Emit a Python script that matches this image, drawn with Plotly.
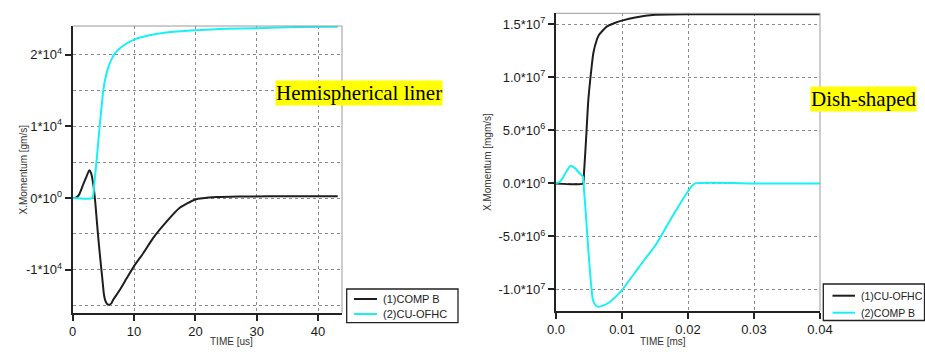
import plotly.graph_objects as go

# ---------------- Data ----------------
# Left panel: Hemispherical liner, time in microseconds, momentum in gm/s
hemi_compb_t = [0, 0.5, 1.0, 1.7, 2.25, 2.7, 3.0, 3.4, 3.7, 4.1, 4.5, 4.8, 5.1, 5.4, 5.8,
                6.3, 6.6, 7.7, 8.8, 10, 11.5, 13.1, 15.3, 17.4, 20, 23.5, 27, 32, 38, 43.2]
hemi_compb_y = [0, 60, 400, 1860, 3000, 3860, 3490, 1630, -800, -4900, -8500, -11000, -13500,
                -14500, -14900, -14700, -14200, -12800, -11200, -9500, -7700, -5600, -3300,
                -1400, -200, 140, 220, 230, 230, 230]
hemi_cu_t = [0, 3.2, 3.5, 3.9, 4.45, 5.0, 5.4, 5.8, 6.3, 6.9, 8.0, 10, 12.5, 15.3, 20, 25, 30,
             37, 43.2]
hemi_cu_y = [0, 0, 1860, 5300, 10500, 15100, 17000, 18200, 19300, 20200, 21100, 22100, 22700,
             23100, 23400, 23600, 23700, 23850, 23900]

# Right panel: Dish-shaped, time in ms, momentum in mgm/s
dish_cu_t = [0, 0.0041, 0.00424, 0.00455, 0.0049, 0.0054, 0.00566, 0.00616, 0.0065, 0.00768,
             0.009, 0.01, 0.012, 0.015, 0.02, 0.03, 0.04]
dish_cu_y = [0, 0, 0.94e6, 4.1e6, 7.9e6, 1.1e7, 1.23e7, 1.35e7, 1.40e7, 1.478e7, 1.515e7,
             1.535e7, 1.565e7, 1.59e7, 1.595e7, 1.595e7, 1.595e7]
dish_compb_t = [0, 0.0006, 0.0010, 0.0014, 0.0018, 0.0022, 0.0029, 0.0036, 0.0041, 0.00424,
                0.00455, 0.0049, 0.0053, 0.0056, 0.006, 0.0064, 0.0072, 0.0081, 0.0092, 0.01,
                0.0126, 0.01525, 0.0179, 0.0205, 0.0211, 0.03, 0.04]
dish_compb_y = [0, 0.16e6, 0.5e6, 0.94e6, 1.35e6, 1.67e6, 1.42e6, 0.94e6, 0.63e6, -0.6e6,
                -3.1e6, -6.3e6, -9.4e6, -1.1e7, -1.15e7, -1.163e7, -1.15e7, -1.12e7, -1.06e7,
                -1.006e7, -7.86e6, -5.66e6, -2.83e6, -0.3e6, 0, 0, 0]

hemi_names = ["(1)COMP B", "(2)CU-OFHC"]
dish_names = ["(1)CU-OFHC", "(2)COMP B"]

hemi_xticks = [0, 10, 20, 30, 40]
hemi_yticks = [-1e4, 0, 1e4, 2e4]
hemi_yticktext = ["-1*10<sup>4</sup>", "0*10<sup>0</sup>", "1*10<sup>4</sup>", "2*10<sup>4</sup>"]
dish_xticks = [0, 0.01, 0.02, 0.03, 0.04]
dish_xticktext = ["0.0", "0.01", "0.02", "0.03", "0.04"]
dish_yticks = [-1e7, -5e6, 0, 5e6, 1e7, 1.5e7]
dish_yticktext = ["-1.0*10<sup>7</sup>", "-5.0*10<sup>6</sup>", "0.0*10<sup>0</sup>",
                  "5.0*10<sup>6</sup>", "1.0*10<sup>7</sup>", "1.5*10<sup>7</sup>"]

BLACK = "#1e1e1e"
CYAN = "#19f0f5"
W, H = 925, 355

def px_x(p):
    return p / W

def px_y(p):
    return (H - p) / H

fig = go.Figure()
fig.add_trace(go.Scatter(x=hemi_compb_t, y=hemi_compb_y, mode="lines", name=hemi_names[0],
                         line=dict(color=BLACK, width=2, shape="spline", smoothing=0.5),
                         xaxis="x", yaxis="y"))
fig.add_trace(go.Scatter(x=hemi_cu_t, y=hemi_cu_y, mode="lines", name=hemi_names[1],
                         line=dict(color=CYAN, width=2, shape="spline", smoothing=0.5),
                         xaxis="x", yaxis="y"))
fig.add_trace(go.Scatter(x=dish_cu_t, y=dish_cu_y, mode="lines", name=dish_names[0],
                         line=dict(color=BLACK, width=2, shape="spline", smoothing=0.5),
                         xaxis="x2", yaxis="y2"))
fig.add_trace(go.Scatter(x=dish_compb_t, y=dish_compb_y, mode="lines", name=dish_names[1],
                         line=dict(color=CYAN, width=2, shape="spline", smoothing=0.5),
                         xaxis="x2", yaxis="y2"))

grid = dict(showgrid=True, gridcolor="#8a8a8a", griddash="dot", gridwidth=1)
tickfont = dict(family="Liberation Sans, Arial", size=13, color="#1a1a1a")

fig.update_layout(
    width=W, height=H,
    margin=dict(l=0, r=0, t=0, b=0, autoexpand=False),
    paper_bgcolor="white", plot_bgcolor="white",
    font=dict(family="Liberation Sans, Arial", color="#222"),
    showlegend=False,
    xaxis=dict(domain=[px_x(72.7), px_x(342)], range=[0, 43.9], anchor="y",
               tickmode="array", tickvals=hemi_xticks, ticks="outside", ticklen=6,
               tickwidth=2, tickcolor="#222", showline=True, linecolor="#222", linewidth=2,
               zeroline=False, tickfont=tickfont, automargin=False, **grid),
    yaxis=dict(domain=[px_y(312.7), px_y(26)], range=[-1.6e4, 2.4e4], anchor="x",
               tickmode="array", tickvals=hemi_yticks, ticktext=hemi_yticktext,
               ticks="outside", ticklen=6, tickwidth=2, tickcolor="#222",
               showline=True, linecolor="#222", linewidth=2, zeroline=False,
               tickfont=tickfont, automargin=False,
               minor=dict(tickmode="linear", tick0=0, dtick=5000, ticks="",
                          showgrid=True, gridcolor="#8a8a8a", griddash="dot", gridwidth=1),
               **grid),
    xaxis2=dict(domain=[px_x(556), px_x(820)], range=[0, 0.04], anchor="y2",
                tickmode="array", tickvals=dish_xticks, ticktext=dish_xticktext,
                ticks="outside", ticklen=6, tickwidth=2, tickcolor="#222",
                showline=True, linecolor="#222", linewidth=2, zeroline=False,
                tickfont=tickfont, automargin=False, **grid),
    yaxis2=dict(domain=[px_y(310.7), px_y(13.3)], range=[-1.2e7, 1.604e7], anchor="x2",
                tickmode="array", tickvals=dish_yticks, ticktext=dish_yticktext,
                ticks="outside", ticklen=6, tickwidth=2, tickcolor="#222",
                showline=True, linecolor="#222", linewidth=2, zeroline=False,
                tickfont=tickfont, automargin=False, **grid),
)

# thin gray frame (top/right) for both plots
for xr, yr in (("x domain", "y domain"), ("x2 domain", "y2 domain")):
    fig.add_shape(type="line", xref=xr, yref=yr, x0=0, x1=1, y0=1, y1=1,
                  line=dict(color="#9a9a9a", width=1), layer="above")
    fig.add_shape(type="line", xref=xr, yref=yr, x0=1, x1=1, y0=0, y1=1,
                  line=dict(color="#9a9a9a", width=1), layer="above")

# legend boxes (drawn in paper pixels, entries taken from the trace names / colours)
def draw_legend(box, sample_x, text_x, rows, names, colors, fsize):
    x0, y0, x1, y1 = box
    fig.add_shape(type="rect", xref="paper", yref="paper",
                  x0=px_x(x0), x1=px_x(x1), y0=px_y(y1), y1=px_y(y0),
                  line=dict(color="#222", width=1.3), fillcolor="white", layer="above")
    for ry, name, col in zip(rows, names, colors):
        fig.add_shape(type="line", xref="paper", yref="paper",
                      x0=px_x(sample_x[0]), x1=px_x(sample_x[1]), y0=px_y(ry), y1=px_y(ry),
                      line=dict(color=col, width=2), layer="above")
        fig.add_annotation(text=name, xref="paper", yref="paper", x=px_x(text_x),
                           y=px_y(ry), xanchor="left", yanchor="middle", showarrow=False,
                           font=dict(family="Liberation Sans, Arial", size=fsize, color="#222"))

draw_legend((346.7, 289, 458, 322.7), (354, 377), 381, (299, 314), hemi_names,
            [BLACK, CYAN], 11)
draw_legend((823.3, 284, 924.5, 320.5), (832.5, 855), 859, (295.7, 312.7), dish_names,
            [BLACK, CYAN], 10.5)

# axis titles as annotations
fig.add_annotation(text="X.Momentum [gm/s]", xref="paper", yref="paper",
                   x=px_x(15), y=px_y(170), textangle=-90, showarrow=False,
                   font=dict(size=10, color="#333"))
fig.add_annotation(text="TIME [us]", xref="paper", yref="paper",
                   x=px_x(207.5), y=px_y(348.5), showarrow=False,
                   font=dict(size=10, color="#333"))
fig.add_annotation(text="X.Momentum [mgm/s]", xref="paper", yref="paper",
                   x=px_x(488), y=px_y(162), textangle=-90, showarrow=False,
                   font=dict(size=10, color="#333"))
fig.add_annotation(text="TIME [ms]", xref="paper", yref="paper",
                   x=px_x(688), y=px_y(348.5), showarrow=False,
                   font=dict(size=10, color="#333"))

# yellow highlighted labels
fig.add_annotation(text="Hemispherical liner", xref="paper", yref="paper",
                   x=px_x(275), y=px_y(93), xanchor="left", yanchor="middle",
                   showarrow=False, bgcolor="#ffff00", borderpad=0,
                   font=dict(family="Liberation Serif, Times New Roman", size=21, color="black"))
fig.add_annotation(text="Dish-shaped", xref="paper", yref="paper",
                   x=px_x(810), y=px_y(99), xanchor="left", yanchor="middle",
                   showarrow=False, bgcolor="#ffff00", borderpad=0,
                   font=dict(family="Liberation Serif, Times New Roman", size=21, color="black"))

fig.write_html("out.html", config={"displayModeBar": False},
               post_script="document.body.style.margin='0';document.body.style.overflow='hidden';")
